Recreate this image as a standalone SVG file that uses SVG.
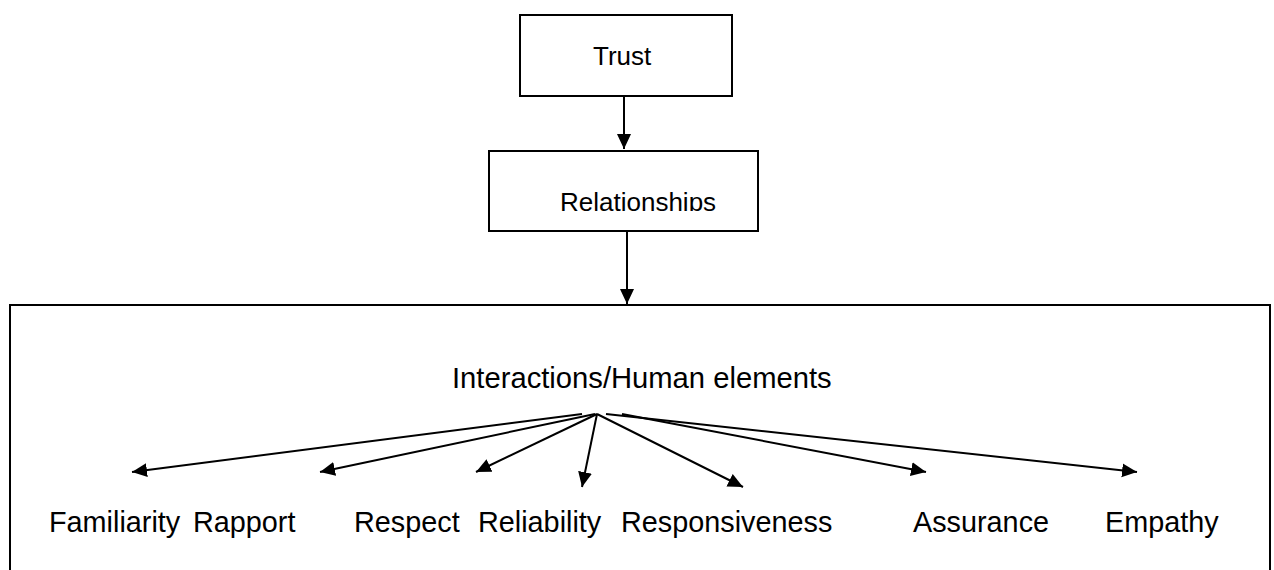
<svg xmlns="http://www.w3.org/2000/svg" width="1274" height="570" viewBox="0 0 1274 570">
<style>
.box{fill:#fff;stroke:#000;stroke-width:2}
.t{font-family:"Liberation Sans",Arial,sans-serif;fill:#000}
.top{font-size:26px}
.lab{font-size:28.8px}
.hdr{font-size:29.2px}
.c{stroke:#000;stroke-width:2;fill:none;marker-end:url(#ah)}
</style>
<defs>
<marker id="ah" markerUnits="userSpaceOnUse" markerWidth="16" markerHeight="15" refX="15" refY="7" orient="auto" viewBox="0 0 16 15">
<path d="M0,0 L15,7 L0,14 Z" fill="#000"/>
</marker>
<clipPath id="relclip"><rect x="489" y="151" width="269" height="60"/></clipPath>
</defs>
<rect width="1274" height="570" fill="#fff"/>
<g id="node-trust">
<rect class="box" x="520" y="15" width="212" height="81"/>
<text class="t top" x="593" y="65">Trust</text>
</g>
<g id="node-relationships">
<rect class="box" x="489" y="151" width="269" height="80"/>
<text class="t top" x="560" y="211" clip-path="url(#relclip)">Relationships</text>
</g>
<g id="node-interactions">
<rect class="box" x="10" y="305" width="1260" height="290"/>
<text class="t hdr" x="452" y="388">Interactions/Human elements</text>
</g>
<g id="labels">
<text class="t lab" x="49" y="532">Familiarity</text>
<text class="t lab" x="193" y="532">Rapport</text>
<text class="t lab" x="354" y="532">Respect</text>
<text class="t lab" x="478" y="532">Reliability</text>
<text class="t lab" x="621" y="532">Responsiveness</text>
<text class="t lab" x="913" y="532">Assurance</text>
<text class="t lab" x="1105" y="532">Empathy</text>
</g>
<g id="connectors">
<line class="c" x1="624" y1="96" x2="624" y2="149"/>
<line class="c" x1="627" y1="231" x2="627" y2="304"/>
<line class="c" x1="582" y1="414" x2="132" y2="472"/>
<line class="c" x1="595" y1="414" x2="320" y2="472"/>
<line class="c" x1="597" y1="414" x2="476" y2="472"/>
<line class="c" x1="597" y1="414" x2="582" y2="487"/>
<line class="c" x1="597" y1="414" x2="743" y2="487"/>
<line class="c" x1="622" y1="414" x2="926" y2="472"/>
<line class="c" x1="606" y1="414" x2="1137" y2="472"/>
</g>
</svg>
